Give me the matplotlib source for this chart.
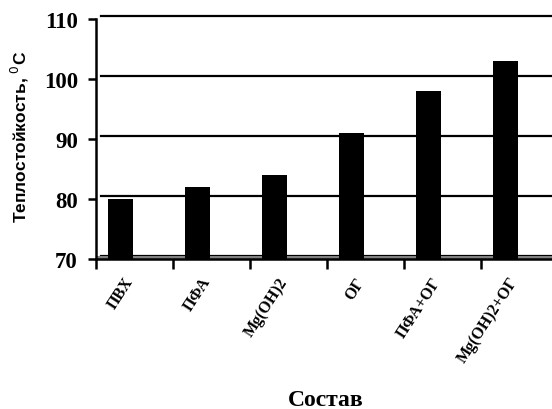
import matplotlib
matplotlib.use("Agg")
import matplotlib.pyplot as plt
import matplotlib.transforms as mtransforms
import numpy as np

categories = ["ПВХ", "ПФА", "Mg(OH)2", "ОГ", "ПФА+ОГ", "Mg(OH)2+ОГ"]
values = [80, 82, 84, 91, 98, 103]
yticks = [70, 80, 90, 100, 110]

fig = plt.figure(figsize=(5.52, 4.10), dpi=100)
ax = fig.add_axes([0.174, 0.366, 0.837, 0.585])

x = np.arange(len(categories))
bar_x = x - 0.18
ax.set_xlim(-0.5, len(categories) - 0.5)
ax.set_ylim(70, 110)

# back-wall gridlines, shifted like the 3D depth in the original
shift = mtransforms.ScaledTranslation(5 / 100, 3 / 100, fig.dpi_scale_trans)
for v in yticks:
    ax.plot([0, 1], [v, v], color="black", lw=1.6,
            transform=ax.get_yaxis_transform() + shift, zorder=1, clip_on=False)
# floor
ax.axhspan(70, 70.55, color="#808080", zorder=1.5, lw=0)

ax.bar(bar_x, [v - 70 for v in values], bottom=70, width=0.33, color="black",
       zorder=3)

for s in ("top", "right"):
    ax.spines[s].set_visible(False)
ax.spines["left"].set_linewidth(1.8)
ax.spines["bottom"].set_linewidth(1.8)

ax.set_yticks(yticks)
ax.set_yticklabels([str(v) for v in yticks], fontfamily="Liberation Serif",
                   fontweight="bold", fontsize=16.5)
ax.tick_params(axis="y", length=6, width=1.8, pad=7)

ax.set_xticks(bar_x + 0.12)
ax.set_xticklabels(categories, rotation=57, ha="right", va="center",
                   rotation_mode="anchor", fontfamily="Liberation Serif",
                   fontweight="bold", fontsize=11.5)
ax.tick_params(axis="x", which="major", length=0, pad=14)
ax.set_xticks(np.arange(-0.5, len(categories)), minor=True)
ax.tick_params(axis="x", which="minor", length=7, width=1.8)

fig.text(0.036, 0.665, "Теплостойкость, $^{0}$C", rotation=90, ha="center",
         va="center", fontfamily="Liberation Sans", fontweight="bold", fontsize=12.5)
fig.text(0.591, 0.022, "Состав", ha="center", va="center",
         fontfamily="Liberation Serif", fontweight="bold", fontsize=17)

fig.savefig("out.png", dpi=100)
